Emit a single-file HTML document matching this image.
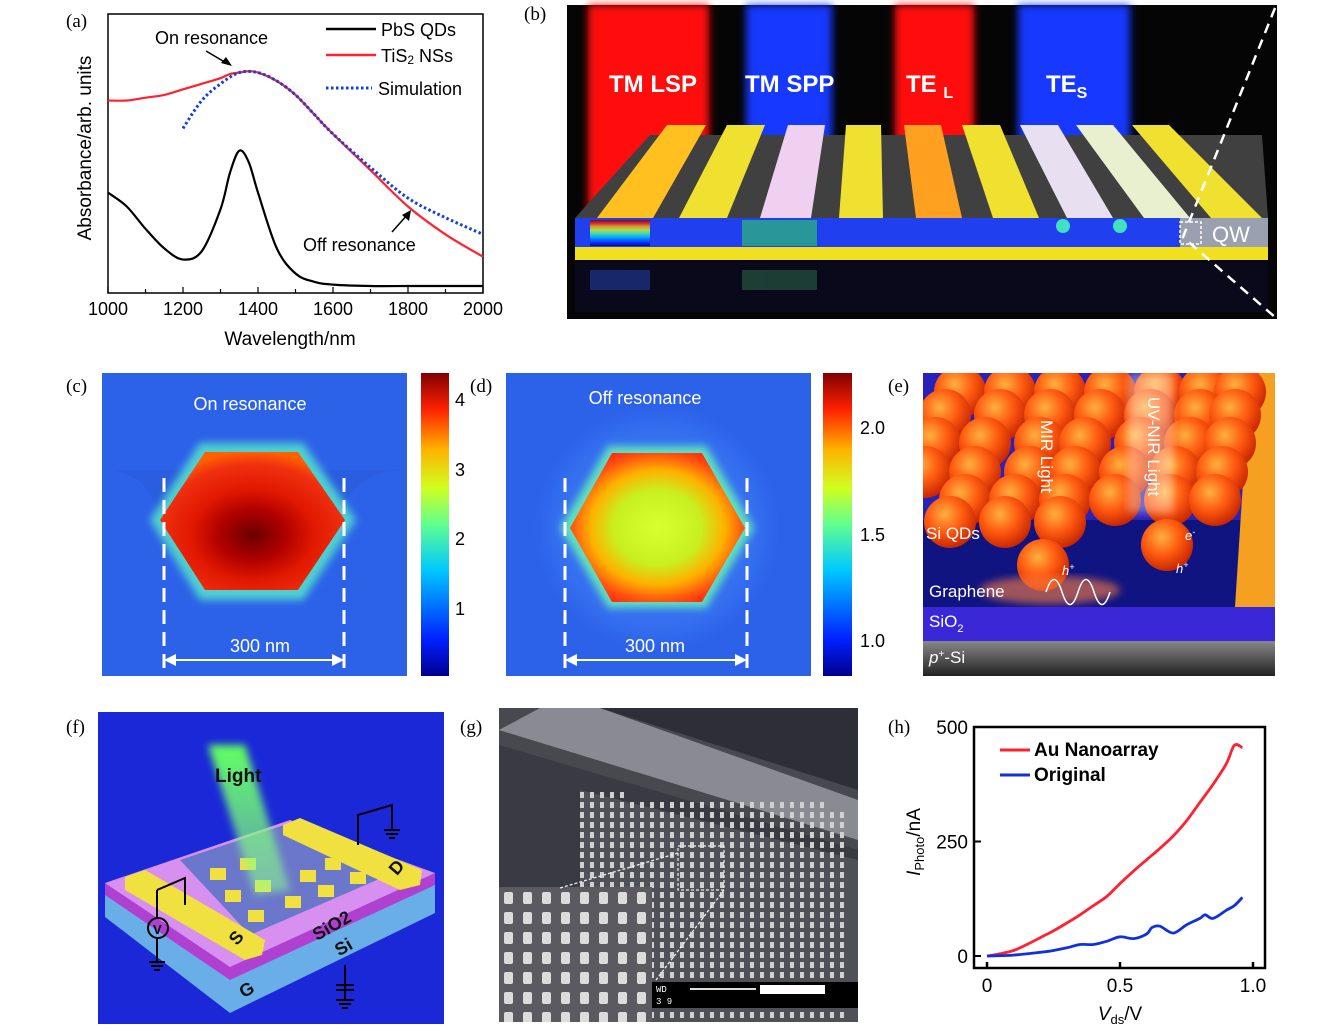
<!DOCTYPE html>
<html><head><meta charset="utf-8"><style>
body{margin:0;background:#fff;width:1339px;height:1031px;overflow:hidden;font-family:"Liberation Sans",sans-serif}
svg{position:absolute;left:0;top:0}
.lab{font-family:"Liberation Serif",serif;font-size:19px}
</style></head><body>
<svg width="1339" height="1031" viewBox="0 0 1339 1031">
<defs>
<linearGradient id="jet" x1="0" y1="1" x2="0" y2="0">
<stop offset="0" stop-color="#00008f"/><stop offset="0.12" stop-color="#0020ff"/><stop offset="0.35" stop-color="#00c8ff"/><stop offset="0.5" stop-color="#60ff90"/><stop offset="0.62" stop-color="#d0ff20"/><stop offset="0.75" stop-color="#ffb000"/><stop offset="0.88" stop-color="#ff2000"/><stop offset="1" stop-color="#800000"/></linearGradient>
<radialGradient id="sph" cx="0.4" cy="0.35" r="0.7"><stop offset="0" stop-color="#ffb040"/><stop offset="0.5" stop-color="#ff5a10"/><stop offset="1" stop-color="#c02000"/></radialGradient>
<radialGradient id="hexC" cx="0.5" cy="0.6" r="0.6"><stop offset="0" stop-color="#6a0000"/><stop offset="0.3" stop-color="#b00000"/><stop offset="0.55" stop-color="#e01800"/><stop offset="0.85" stop-color="#f03010"/><stop offset="1" stop-color="#ff6000"/></radialGradient>
<radialGradient id="hexD" cx="0.5" cy="0.5" r="0.55"><stop offset="0" stop-color="#d8ff30"/><stop offset="0.45" stop-color="#c8f020"/><stop offset="0.7" stop-color="#ffb000"/><stop offset="0.9" stop-color="#ff5010"/><stop offset="1" stop-color="#ff3010"/></radialGradient>
<linearGradient id="beam" x1="0" y1="0" x2="0" y2="1"><stop offset="0" stop-color="#60ff60"/><stop offset="1" stop-color="#90ff90" stop-opacity="0.5"/></linearGradient>
<linearGradient id="psi" x1="0" y1="0" x2="0" y2="1"><stop offset="0" stop-color="#888"/><stop offset="1" stop-color="#222"/></linearGradient>
<filter id="blur4"><feGaussianBlur stdDeviation="4"/></filter>
<filter id="blur8"><feGaussianBlur stdDeviation="8"/></filter>
<clipPath id="clipE"><rect x="923" y="373" width="352" height="234"/></clipPath>
<clipPath id="clipG"><rect x="499" y="708" width="359" height="314"/></clipPath>
</defs>

<!-- ===== (a) ===== -->
<g>
<text x="66" y="27" class="lab">(a)</text>
<rect x="108" y="14" width="375" height="279" fill="none" stroke="#000" stroke-width="1.5"/>
<g id="a-ticks"></g>
<g id="a-series"></g>
<text x="290" y="345" font-size="19" text-anchor="middle">Wavelength/nm</text>
<text transform="translate(91,148) rotate(-90)" font-size="19" text-anchor="middle">Absorbance/arb. units</text>
<text x="155" y="44" font-size="18">On resonance</text>
<line x1="206" y1="51" x2="228" y2="64" stroke="#000" stroke-width="1.5"/><polygon points="232,66 221,63 226,57" fill="#000"/>
<text x="303" y="251" font-size="18">Off resonance</text>
<line x1="392" y1="232" x2="408" y2="214" stroke="#000" stroke-width="1.5"/><polygon points="411,210 409,221 402,215" fill="#000"/>
<g>
<line x1="326" y1="29" x2="376" y2="29" stroke="#000" stroke-width="2.5"/><text x="381" y="36" font-size="18">PbS QDs</text>
<line x1="326" y1="55" x2="376" y2="55" stroke="#ff2030" stroke-width="2.5"/><text x="381" y="62" font-size="18">TiS<tspan font-size="12" dy="2">2</tspan><tspan dy="-2"> NSs</tspan></text>
<line x1="326" y1="88" x2="372" y2="88" stroke="#1040e0" stroke-width="3" stroke-dasharray="2.5,2.5"/><text x="378" y="95" font-size="18">Simulation</text>
</g>
</g>

<!-- ===== (b) ===== -->
<g>
<text x="524" y="20" class="lab">(b)</text>
<rect x="567" y="5" width="710" height="314" fill="#050505"/>
<g filter="url(#blur4)">
<rect x="588" y="5" width="121" height="215" fill="#ff1010"/>
<rect x="746" y="5" width="86" height="215" fill="#1838ff"/>
<rect x="895" y="5" width="79" height="215" fill="#ff1010"/>
<rect x="1018" y="5" width="112" height="215" fill="#1838ff"/>
</g>
<g font-weight="bold" fill="#fff" font-size="24" font-family="'Liberation Sans',sans-serif">
<text x="609" y="92">TM LSP</text>
<text x="745" y="92">TM SPP</text>
<text x="906" y="92">TE <tspan font-size="16" dy="6">L</tspan></text>
<text x="1046" y="92">TE<tspan font-size="16" dy="6">S</tspan></text>
</g>
<polygon points="575,218 1268,218 1262,135 650,135" fill="#404040"/>
<rect x="575" y="218" width="693" height="29" fill="#2040f0"/>
<rect x="1180" y="218" width="88" height="29" fill="#9aa0b0"/>
<rect x="575" y="247" width="693" height="13" fill="#f0e020"/>
<rect x="575" y="262" width="693" height="50" fill="#0a0a20" opacity="0.8"/>
<g opacity="0.35"><rect x="590" y="270" width="60" height="20" fill="#3060ff"/><rect x="742" y="270" width="75" height="20" fill="#40a060"/></g>
<g id="b-bars"></g>
<g>
<rect x="590" y="220" width="60" height="26" fill="url(#jet)" opacity="0.8"/>
<rect x="742" y="220" width="75" height="26" fill="#30d060" opacity="0.6"/>
<circle cx="1063" cy="226" r="7" fill="#40e0c0"/><circle cx="1120" cy="226" r="7" fill="#40e0c0"/>
</g>
<rect x="1180" y="222" width="21" height="22" fill="none" stroke="#fff" stroke-width="1.5" stroke-dasharray="3,2"/>
<text x="1212" y="242" fill="#fff" font-size="22">QW</text>
<path d="M1275,8 L1183,237 L1276,318" fill="none" stroke="#fff" stroke-width="2.5" stroke-dasharray="10,7"/>
</g>

<!-- ===== (c) ===== -->
<g>
<text x="66" y="392" class="lab">(c)</text>
<rect x="102" y="373" width="305" height="303" fill="#2c62e8"/>
<path d="M102,470 Q150,470 160,520 Q170,580 250,590 Q330,580 340,520 Q350,470 407,470" fill="#2a5ad8" opacity="0.6"/>
<polygon points="200,443 303,443 356,520 303,600 200,600 150,520" fill="#50d0d0" filter="url(#blur4)"/>
<polygon points="205,452 298,452 345,520 298,590 205,590 160,520" fill="url(#hexC)"/>
<text x="250" y="410" fill="#fff" font-size="18" text-anchor="middle">On resonance</text>
<line x1="164" y1="478" x2="164" y2="676" stroke="#fff" stroke-width="3" stroke-dasharray="14,8"/>
<line x1="344" y1="478" x2="344" y2="676" stroke="#fff" stroke-width="3" stroke-dasharray="14,8"/>
<line x1="168" y1="660" x2="340" y2="660" stroke="#fff" stroke-width="2"/><polygon points="164,660 176,654 176,666" fill="#fff"/><polygon points="344,660 332,654 332,666" fill="#fff"/>
<text x="260" y="652" fill="#fff" font-size="18" text-anchor="middle">300 nm</text>
<rect x="421" y="373" width="28" height="303" fill="url(#jet)"/>
<g font-size="18"><text x="455" y="406">4</text><text x="455" y="476">3</text><text x="455" y="545">2</text><text x="455" y="615">1</text></g>
</g>

<!-- ===== (d) ===== -->
<g>
<text x="470" y="392" class="lab">(d)</text>
<rect x="506" y="373" width="305" height="303" fill="#2c62e8"/>
<circle cx="657" cy="528" r="110" fill="#3470f0" filter="url(#blur8)"/>
<polygon points="608,446 706,446 754,528 706,608 608,608 560,528" fill="#60e0c0" filter="url(#blur4)"/>
<polygon points="612,453 702,453 745,528 702,602 612,602 570,528" fill="url(#hexD)"/>
<text x="645" y="404" fill="#fff" font-size="18" text-anchor="middle">Off resonance</text>
<line x1="565" y1="478" x2="565" y2="676" stroke="#fff" stroke-width="3" stroke-dasharray="14,8"/>
<line x1="747" y1="478" x2="747" y2="676" stroke="#fff" stroke-width="3" stroke-dasharray="14,8"/>
<line x1="569" y1="660" x2="743" y2="660" stroke="#fff" stroke-width="2"/><polygon points="565,660 577,654 577,666" fill="#fff"/><polygon points="747,660 735,654 735,666" fill="#fff"/>
<text x="655" y="652" fill="#fff" font-size="18" text-anchor="middle">300 nm</text>
<rect x="823" y="373" width="29" height="303" fill="url(#jet)"/>
<g font-size="18"><text x="860" y="434">2.0</text><text x="860" y="541">1.5</text><text x="860" y="647">1.0</text></g>
</g>

<!-- ===== (e) ===== -->
<g>
<text x="888" y="392" class="lab">(e)</text>
<g clip-path="url(#clipE)">
<rect x="923" y="373" width="352" height="234" fill="#2a22b8"/>
<rect x="923" y="520" width="320" height="87" fill="#101480"/>
<polygon points="1250,373 1275,373 1275,607 1235,607" fill="#f5a020"/>
<g id="e-spheres"></g>
<rect x="1128" y="373" width="45" height="140" fill="#fff" opacity="0.35" filter="url(#blur4)"/>
<ellipse cx="1050" cy="590" rx="70" ry="14" fill="#ff8040" opacity="0.6" filter="url(#blur4)"/>
</g>
<text transform="translate(1041,420) rotate(90)" fill="#fff" font-size="17">MIR Light</text>
<text transform="translate(1148,397) rotate(90)" fill="#fff" font-size="17">UV-NIR Light</text>
<text x="926" y="539" fill="#fff" font-size="17">Si QDs</text>
<text x="929" y="597" fill="#fff" font-size="17">Graphene</text>
<path d="M1046,592 q8,-25 16,0 q8,25 16,0 q8,-25 16,0 q8,25 16,0" fill="none" stroke="#fff" stroke-width="1.5"/>
<text x="1062" y="575" fill="#fff" font-size="13" font-style="italic">h<tspan font-size="9" dy="-5">+</tspan></text>
<text x="1176" y="573" fill="#fff" font-size="13" font-style="italic">h<tspan font-size="9" dy="-5">+</tspan></text>
<text x="1185" y="540" fill="#fff" font-size="13" font-style="italic">e<tspan font-size="9" dy="-5">-</tspan></text>
<rect x="923" y="607" width="352" height="34" fill="#3a28d8"/>
<text x="929" y="627" fill="#fff" font-size="17">SiO<tspan font-size="11" dy="5">2</tspan></text>
<rect x="923" y="641" width="352" height="35" fill="url(#psi)"/>
<text x="929" y="663" fill="#fff" font-size="17"><tspan font-style="italic">p</tspan><tspan font-size="10" dy="-6">+</tspan><tspan dy="6">-Si</tspan></text>
</g>

<!-- ===== (f) ===== -->
<g>
<text x="66" y="733" class="lab">(f)</text>
<rect x="98" y="712" width="346" height="312" fill="#1a28d8"/>
<polygon points="105,883 230,967 435,873 435,913 230,1013 105,917" fill="#6aaee8"/>
<polygon points="105,883 230,967 435,873 435,885 230,980 105,895" fill="#b040d0"/>
<polygon points="105,883 290,820 435,873 230,967" fill="#d890f0"/>
<polygon points="180,860 290,823 400,870 250,935" fill="#5070c0" opacity="0.8"/>
<g fill="#f0e040">
<rect x="210" y="868" width="16" height="12"/><rect x="240" y="858" width="16" height="12"/><rect x="225" y="890" width="16" height="12"/><rect x="255" y="880" width="16" height="12"/><rect x="248" y="910" width="16" height="12"/><rect x="285" y="896" width="16" height="12"/><rect x="300" y="870" width="16" height="12"/><rect x="318" y="885" width="16" height="12"/><rect x="325" y="858" width="16" height="12"/><rect x="350" y="872" width="16" height="12"/>
</g>
<polygon points="125,877 145,870 265,940 262,955 245,960 125,890" fill="#f0e040"/>
<polygon points="283,825 300,818 422,870 420,885 400,890 283,835" fill="#f0e040"/>
<polygon points="208,745 245,745 290,890 255,895" fill="url(#beam)" filter="url(#blur4)"/>
<text x="215" y="782" font-weight="bold" font-size="19" fill="#111">Light</text>
<text x="228" y="943" transform="rotate(-50 236 935)" font-weight="bold" font-size="18" fill="#111">S</text>
<text x="388" y="873" transform="rotate(-50 396 865)" font-weight="bold" font-size="18" fill="#111">D</text>
<text x="310" y="935" transform="rotate(-30 325 925)" font-weight="bold" font-size="18" fill="#111">SiO2</text>
<text x="335" y="955" transform="rotate(-30 340 948)" font-weight="bold" font-size="18" fill="#111">Si</text>
<text x="240" y="995" transform="rotate(-30 248 990)" font-weight="bold" font-size="18" fill="#111">G</text>
<circle cx="158" cy="928" r="10" fill="none" stroke="#000" stroke-width="2"/><text x="153" y="934" font-size="13" font-weight="bold">V</text>
<path d="M157,890 L157,918 M157,938 L157,962 M149,962 h16 M151,966 h12 M154,970 h6" stroke="#000" stroke-width="2" fill="none"/>
<path d="M157,890 L185,878 L185,905" stroke="#000" stroke-width="2" fill="none"/>
<path d="M358,845 L358,815 L392,805 L392,830 M384,830 h16 M386,834 h12 M389,838 h6" stroke="#000" stroke-width="2" fill="none"/>
<path d="M345,965 L345,1000 M336,985 h18 M336,990 h18 M336,1000 h18 M339,1004 h12 M342,1008 h6" stroke="#000" stroke-width="2" fill="none"/>
</g>

<!-- ===== (g) ===== -->
<g>
<text x="460" y="733" class="lab">(g)</text>
<g clip-path="url(#clipG)">
<rect x="499" y="708" width="359" height="314" fill="#48484f"/>
<polygon points="600,708 858,708 858,790" fill="#2e2e36"/>
<polygon points="499,730 540,708 600,708 858,800 858,840" fill="#8a8a92"/>
<polygon points="499,745 858,850 858,1022 499,1022" fill="#3a3a42"/>
<polygon points="580,790 858,860 858,1022 580,1022" fill="#505058"/>
<g id="g-dots" fill="#d0d0d0"></g>
<rect x="499" y="887" width="153" height="135" fill="#5a5a60"/>
<g id="g-inset" fill="#dcdcdc"></g>
</g>
<rect x="652" y="982" width="206" height="26" fill="#000"/>
<text x="656" y="992" fill="#fff" font-size="9" font-family="'Liberation Mono',monospace">WD</text>
<text x="656" y="1004" fill="#fff" font-size="9" font-family="'Liberation Mono',monospace">3 9</text>
<line x1="690" y1="989" x2="756" y2="989" stroke="#ddd" stroke-width="2"/>
<rect x="760" y="985" width="65" height="9" fill="#fff"/>
<rect x="678" y="846" width="46" height="44" fill="none" stroke="#eee" stroke-width="1.2" stroke-dasharray="3,2"/>
<line x1="678" y1="853" x2="560" y2="888" stroke="#eee" stroke-width="1.3" stroke-dasharray="3,2"/>
<line x1="724" y1="890" x2="656" y2="980" stroke="#eee" stroke-width="1.3" stroke-dasharray="3,2"/>
</g>

<!-- ===== (h) ===== -->
<g>
<text x="888" y="733" class="lab">(h)</text>
<rect x="974" y="727" width="291" height="241" fill="none" stroke="#000" stroke-width="2.5"/>
<g id="h-ticks"></g>
<g id="h-series"></g>
<text x="1120" y="1020" font-size="19" text-anchor="middle"><tspan font-style="italic">V</tspan><tspan font-size="13" dy="4">ds</tspan><tspan dy="-4">/V</tspan></text>
<text transform="translate(920,842) rotate(-90)" font-size="19" text-anchor="middle"><tspan font-style="italic">I</tspan><tspan font-size="13" dy="4">Photo</tspan><tspan dy="-4">/nA</tspan></text>
<g>
<line x1="1000" y1="750" x2="1030" y2="750" stroke="#ff2030" stroke-width="3"/><text x="1034" y="756" font-size="19" font-weight="bold">Au Nanoarray</text>
<line x1="1000" y1="775" x2="1030" y2="775" stroke="#1030e0" stroke-width="3"/><text x="1034" y="781" font-size="19" font-weight="bold">Original</text>
</g>
</g>
</svg>
<script>
const NS='http://www.w3.org/2000/svg';
// ---- panel (a) data ----
const aWavelengths=[1000,1050,1100,1150,1200,1250,1300,1325,1350,1375,1400,1450,1500,1550,1600,1700,1800,1900,2000];
const aPbS=[0.36,0.31,0.23,0.16,0.12,0.15,0.30,0.43,0.51,0.47,0.36,0.16,0.07,0.04,0.03,0.025,0.025,0.025,0.025];
const aTiS2=[0.69,0.69,0.70,0.71,0.73,0.75,0.77,0.785,0.79,0.795,0.79,0.76,0.71,0.64,0.57,0.44,0.31,0.21,0.13];
const aSimWl=[1200,1250,1300,1350,1400,1450,1500,1550,1600,1700,1800,1900,2000];
const aSim=[0.59,0.69,0.75,0.79,0.79,0.76,0.71,0.64,0.57,0.45,0.34,0.27,0.21];
const aXTicks=[1000,1200,1400,1600,1800,2000];
// ---- panel (h) data ----
const hVoltsRed=[0,0.05,0.1,0.15,0.2,0.25,0.3,0.35,0.4,0.45,0.5,0.55,0.6,0.65,0.7,0.75,0.8,0.85,0.9,0.93,0.96];
const hAu=[0,5,12,25,40,55,72,90,110,130,158,185,210,235,262,295,335,375,420,460,455];
const hVoltsBlue=[0,0.1,0.2,0.25,0.3,0.35,0.4,0.45,0.5,0.55,0.6,0.62,0.65,0.7,0.75,0.8,0.82,0.85,0.9,0.93,0.96];
const hOrig=[0,2,8,12,18,25,25,32,42,38,48,62,65,50,68,82,90,82,100,110,128];
const hXTicks=[0,0.5,1.0];
const hXTickLabels=['0','0.5','1.0'];
const hYTicks=[0,250,500];

function ax(w){return 108+(w-1000)/1000*375;}
function ay(v){return 293-v*279;}
function hx(v){return 987+v*266;}
function hy(v){return 956-v*0.458;}
function mk(tag,attrs,parent){const e=document.createElementNS(NS,tag);for(const k in attrs)e.setAttribute(k,attrs[k]);parent.appendChild(e);return e;}

const at=document.getElementById('a-ticks');
for(let w=1000;w<=2000;w+=100){const major=aXTicks.includes(w);mk('line',{x1:ax(w),x2:ax(w),y1:293,y2:293-(major?6:4),stroke:'#000','stroke-width':1.2},at);}
aXTicks.forEach(w=>{const t=mk('text',{x:ax(w),y:315,'font-size':18,'text-anchor':'middle'},at);t.textContent=w;

});
const as=document.getElementById('a-series');
function smooth(pts){let d='M'+pts[0][0].toFixed(1)+','+pts[0][1].toFixed(1);
for(let i=0;i<pts.length-1;i++){const p0=pts[Math.max(0,i-1)],p1=pts[i],p2=pts[i+1],p3=pts[Math.min(pts.length-1,i+2)];
const c1=[p1[0]+(p2[0]-p0[0])/6,p1[1]+(p2[1]-p0[1])/6],c2=[p2[0]-(p3[0]-p1[0])/6,p2[1]-(p3[1]-p1[1])/6];
d+=` C${c1[0].toFixed(1)},${c1[1].toFixed(1)} ${c2[0].toFixed(1)},${c2[1].toFixed(1)} ${p2[0].toFixed(1)},${p2[1].toFixed(1)}`;}return d;}
function line(xs,ys,fx,fy,attrs,parent,name){const pts=xs.map((x,i)=>[fx(x),fy(ys[i])]);const p=mk('path',Object.assign({d:smooth(pts),fill:'none'},attrs),parent);

return p;}
line(aWavelengths,aPbS,ax,ay,{stroke:'#000','stroke-width':2.2,'stroke-linejoin':'round'},as,'pbs-line');
line(aWavelengths,aTiS2,ax,ay,{stroke:'#ff2030','stroke-width':2.2,'stroke-linejoin':'round'},as,'tis2-line');
line(aSimWl,aSim,ax,ay,{stroke:'#1040e0','stroke-width':3,'stroke-dasharray':'2.5,2.5'},as,'simulation-line');

const ht=document.getElementById('h-ticks');
hXTicks.forEach((v,i)=>{mk('line',{x1:hx(v),x2:hx(v),y1:968,y2:962,stroke:'#000','stroke-width':2.5},ht);const t=mk('text',{x:hx(v),y:992,'font-size':19,'text-anchor':'middle'},ht);t.textContent=hXTickLabels[i];

});
hYTicks.forEach(v=>{mk('line',{x1:974,x2:981,y1:hy(v),y2:hy(v),stroke:'#000','stroke-width':2},ht);const t=mk('text',{x:968,y:hy(v)+7,'font-size':19,'text-anchor':'end'},ht);t.textContent=v;

});
const hs=document.getElementById('h-series');
line(hVoltsRed,hAu,hx,hy,{stroke:'#ff2030','stroke-width':2.8},hs,'au-nanoarray-line');
line(hVoltsBlue,hOrig,hx,hy,{stroke:'#1030e0','stroke-width':2.8},hs,'original-line');

// decorative geometry (b) bars
const bb=document.getElementById('b-bars');
const backL=[667,727,788,846,904,962,1020,1076,1132],backR=[706,765,825,881,941,1000,1058,1113,1169];
const frontL=[597,679,760,839,916,993,1067,1144,1211],frontR=[653,727,811,883,962,1039,1113,1190,1262];
const barCol=['#ffc020','#f0e030','#f0d0f0','#f0e030','#ffa020','#f0e030','#e8e0f0','#e8f0d0','#f0e030'];
for(let i=0;i<9;i++){const p=mk('polygon',{points:`${backL[i]},125 ${backR[i]},125 ${frontR[i]},218 ${frontL[i]},218`,fill:barCol[i]},bb);

}
// (e) spheres
const es=document.getElementById('e-spheres');
const rows=[[392,[960,1010,1060,1110,1160,1205,1240]],[415,[945,1000,1050,1100,1150,1200,1235]],[443,[935,985,1040,1085,1140,1190,1230]],[472,[925,975,1030,1075,1125,1175,1222]],[500,[965,1015,1065,1115,1170,1215]],[522,[950,1005,1060]],[565,[1043]],[545,[1167]]];
rows.forEach(r=>r[1].forEach(x=>{const c=mk('circle',{cx:x,cy:r[0],r:26,fill:'url(#sph)'},es);

}));
// (g) dots
const gd=document.getElementById('g-dots');
for(let y=782;y<=1018;y+=10)for(let x=580;x<=845;x+=10){if(y<790+(x-580)*0.05)continue;if(x>800&&y<800)continue;mk('rect',{x:x,y:y,width:4,height:6},gd);}
const gi=document.getElementById('g-inset');
for(let y=892;y<=1015;y+=20)for(let x=504;x<=645;x+=19)mk('rect',{x:x,y:y,width:9,height:12,rx:2},gi);
</script>
</body></html>
